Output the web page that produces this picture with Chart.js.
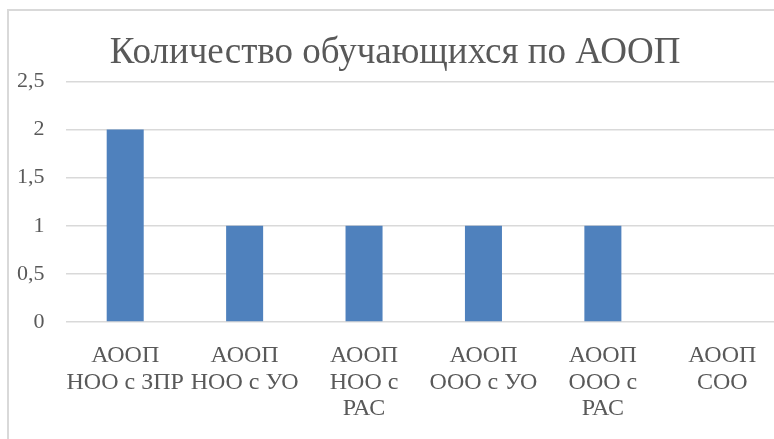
<!DOCTYPE html>
<html>
<head>
<meta charset="utf-8">
<script src="https://cdn.jsdelivr.net/npm/chart.js@4/dist/chart.umd.min.js"></script>
<style>
  html, body { margin: 0; padding: 0; background: #fff; overflow: hidden; }
  #caja {
    position: absolute; left: 7px; top: 9px;
    width: 820px; height: 460px;
    border-left: 2px solid #d9d9d9; border-top: 2px solid #d9d9d9;
  }
  #graficoAoop { position: absolute; left: -1px; top: -1px; }
</style>
</head>
<body>
<div id="caja"><canvas id="graficoAoop" width="790" height="430"></canvas></div>
<script>
let categorias = [
  ['АООП', 'НОО с ЗПР'],
  ['АООП', 'НОО с УО'],
  ['АООП', 'НОО с', 'РАС'],
  ['АООП', 'ООО с УО'],
  ['АООП', 'ООО с', 'РАС'],
  ['АООП', 'СОО']
]
let cantidad = [2, 1, 1, 1, 1, 0]
let titulo = 'Количество обучающихся по АООП'

let fuente = "'Liberation Serif', 'Times New Roman', serif"
let gris = '#595959'

let grafico = new Chart(document.getElementById('graficoAoop'), {
  type: 'bar',
  data: {
    labels: categorias,
    datasets: [{
      label: 'Количество',
      data: cantidad,
      backgroundColor: '#4f81bd',
      barPercentage: 0.31,
      categoryPercentage: 1
    }]
  },
  options: {
    responsive: false,
    animation: false,
    layout: { padding: { left: 0, right: 16, top: 0, bottom: 0 } },
    plugins: {
      legend: { display: false },
      tooltip: { enabled: false },
      title: {
        display: true,
        text: titulo,
        color: gris,
        font: { family: fuente, size: 37, weight: 'normal', lineHeight: 1.2 },
        padding: { top: 21, bottom: 6 }
      }
    },
    scales: {
      x: {
        grid: { display: false },
        border: { display: false },
        ticks: {
          color: gris,
          font: { family: fuente, size: 24, lineHeight: 1.1 },
          maxRotation: 0, minRotation: 0, autoSkip: false,
          padding: 13
        },
        afterFit: s => { s.height = 118 }
      },
      y: {
        min: 0, max: 2.5,
        border: { display: false },
        grid: { color: '#d9d9d9', lineWidth: 1.5, drawTicks: false },
        ticks: {
          stepSize: 0.5,
          color: gris,
          font: { family: fuente, size: 22 },
          padding: 21,
          callback: v => String(v).replace('.', ',')
        },
        afterFit: s => { s.width = 57.5 }
      }
    }
  }
})
</script>
</body>
</html>
